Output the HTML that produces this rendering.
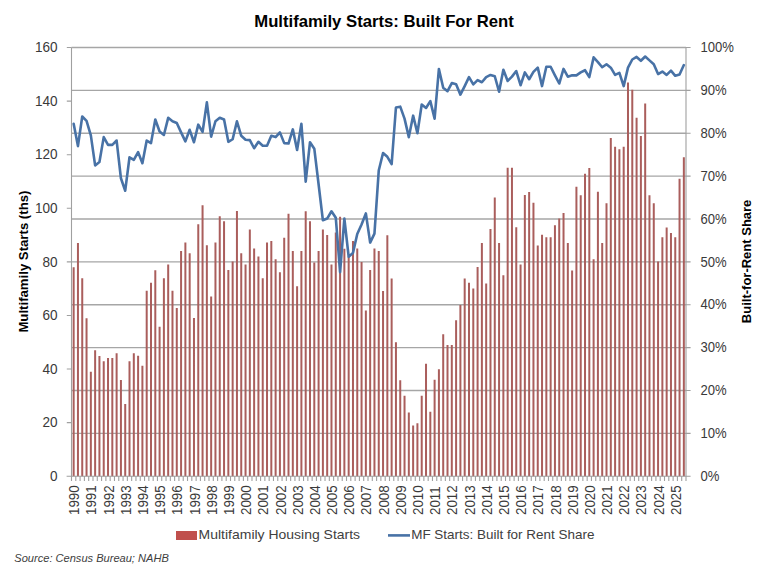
<!DOCTYPE html>
<html><head><meta charset="utf-8"><style>
html,body{margin:0;padding:0;background:#fff;}
svg{display:block;font-family:"Liberation Sans",sans-serif;}
</style></head><body>
<svg width="768" height="576" viewBox="0 0 768 576">
<rect width="768" height="576" fill="#fff"/>
<path d="M71.5 433.38H686.0 M71.5 390.50H686.0 M71.5 347.62H686.0 M71.5 304.75H686.0 M71.5 261.88H686.0 M71.5 219.00H686.0 M71.5 176.12H686.0 M71.5 133.25H686.0 M71.5 90.38H686.0 M71.5 47.50H686.0" stroke="#a6a6a6" stroke-width="1.3" fill="none"/>
<path d="M73.65 476.25V267.23 M77.95 476.25V243.12 M82.24 476.25V278.22 M86.54 476.25V318.15 M90.84 476.25V371.74 M95.13 476.25V350.30 M99.43 476.25V355.93 M103.73 476.25V361.29 M108.03 476.25V358.08 M112.32 476.25V358.08 M116.62 476.25V353.25 M120.92 476.25V380.05 M125.22 476.25V403.90 M129.51 476.25V361.29 M133.81 476.25V353.25 M138.11 476.25V355.66 M142.40 476.25V365.85 M146.70 476.25V290.82 M151.00 476.25V282.78 M155.30 476.25V270.18 M159.59 476.25V326.72 M163.89 476.25V278.22 M168.19 476.25V264.55 M172.48 476.25V290.82 M176.78 476.25V307.97 M181.08 476.25V250.89 M185.38 476.25V242.58 M189.67 476.25V253.30 M193.97 476.25V317.88 M198.27 476.25V224.36 M202.56 476.25V205.33 M206.86 476.25V245.26 M211.16 476.25V296.44 M215.46 476.25V242.58 M219.75 476.25V216.32 M224.05 476.25V221.14 M228.35 476.25V269.91 M232.65 476.25V261.61 M236.94 476.25V210.96 M241.24 476.25V253.30 M245.54 476.25V264.55 M249.83 476.25V229.45 M254.13 476.25V248.48 M258.43 476.25V256.52 M262.73 476.25V278.22 M267.02 476.25V242.58 M271.32 476.25V240.97 M275.62 476.25V259.20 M279.91 476.25V272.33 M284.21 476.25V237.76 M288.51 476.25V213.64 M292.81 476.25V250.89 M297.10 476.25V286.26 M301.40 476.25V250.89 M305.70 476.25V211.23 M309.99 476.25V221.14 M314.29 476.25V262.41 M318.59 476.25V250.89 M322.89 476.25V229.45 M327.18 476.25V235.08 M331.48 476.25V264.55 M335.78 476.25V232.40 M340.08 476.25V216.86 M344.37 476.25V248.74 M348.67 476.25V256.52 M352.97 476.25V240.97 M357.26 476.25V248.48 M361.56 476.25V261.88 M365.86 476.25V310.38 M370.16 476.25V269.91 M374.45 476.25V248.48 M378.75 476.25V250.89 M383.05 476.25V291.08 M387.34 476.25V235.35 M391.64 476.25V278.49 M395.94 476.25V342.27 M400.24 476.25V380.32 M404.53 476.25V395.86 M408.83 476.25V412.47 M413.13 476.25V425.60 M417.42 476.25V423.19 M421.72 476.25V395.86 M426.02 476.25V363.70 M430.32 476.25V411.67 M434.61 476.25V379.78 M438.91 476.25V369.33 M443.21 476.25V334.23 M447.51 476.25V344.95 M451.80 476.25V344.95 M456.10 476.25V320.29 M460.40 476.25V305.02 M464.69 476.25V278.49 M468.99 476.25V282.78 M473.29 476.25V288.40 M477.59 476.25V266.97 M481.88 476.25V243.12 M486.18 476.25V283.58 M490.48 476.25V228.91 M494.77 476.25V197.56 M499.07 476.25V243.12 M503.37 476.25V275.27 M507.67 476.25V167.82 M511.96 476.25V167.82 M516.26 476.25V227.31 M520.56 476.25V264.55 M524.85 476.25V194.88 M529.15 476.25V191.94 M533.45 476.25V202.65 M537.75 476.25V245.53 M542.04 476.25V234.81 M546.34 476.25V237.22 M550.64 476.25V237.22 M554.94 476.25V225.16 M559.23 476.25V218.46 M563.53 476.25V213.10 M567.83 476.25V243.12 M572.12 476.25V270.45 M576.42 476.25V186.84 M580.72 476.25V195.15 M585.02 476.25V173.71 M589.31 476.25V168.09 M593.61 476.25V259.20 M597.91 476.25V191.67 M602.20 476.25V243.12 M606.50 476.25V203.19 M610.80 476.25V138.07 M615.10 476.25V146.65 M619.39 476.25V149.33 M623.69 476.25V146.65 M627.99 476.25V82.60 M632.28 476.25V89.84 M636.58 476.25V117.71 M640.88 476.25V135.93 M645.18 476.25V103.51 M649.47 476.25V195.15 M653.77 476.25V203.19 M658.07 476.25V261.61 M662.37 476.25V237.22 M666.66 476.25V227.57 M670.96 476.25V232.93 M675.26 476.25V237.22 M679.55 476.25V178.80 M683.85 476.25V157.37" stroke="#aa5e5c" stroke-width="2.0" fill="none"/>
<path d="M71.5 47.5V476.25 M686.0 47.5V476.25 M66.6 476.25H686.0 M66.8 422.66H71.5 M66.8 369.06H71.5 M66.8 315.47H71.5 M66.8 261.88H71.5 M66.8 208.28H71.5 M66.8 154.69H71.5 M66.8 101.09H71.5 M66.8 47.50H71.5 M686.0 476.25H690.6 M686.0 433.38H690.6 M686.0 390.50H690.6 M686.0 347.62H690.6 M686.0 304.75H690.6 M686.0 261.88H690.6 M686.0 219.00H690.6 M686.0 176.12H690.6 M686.0 133.25H690.6 M686.0 90.38H690.6 M686.0 47.50H690.6 M71.50 476.25V481 M75.80 476.25V481 M80.09 476.25V481 M84.39 476.25V481 M88.69 476.25V481 M92.99 476.25V481 M97.28 476.25V481 M101.58 476.25V481 M105.88 476.25V481 M110.17 476.25V481 M114.47 476.25V481 M118.77 476.25V481 M123.07 476.25V481 M127.36 476.25V481 M131.66 476.25V481 M135.96 476.25V481 M140.26 476.25V481 M144.55 476.25V481 M148.85 476.25V481 M153.15 476.25V481 M157.44 476.25V481 M161.74 476.25V481 M166.04 476.25V481 M170.34 476.25V481 M174.63 476.25V481 M178.93 476.25V481 M183.23 476.25V481 M187.52 476.25V481 M191.82 476.25V481 M196.12 476.25V481 M200.42 476.25V481 M204.71 476.25V481 M209.01 476.25V481 M213.31 476.25V481 M217.60 476.25V481 M221.90 476.25V481 M226.20 476.25V481 M230.50 476.25V481 M234.79 476.25V481 M239.09 476.25V481 M243.39 476.25V481 M247.69 476.25V481 M251.98 476.25V481 M256.28 476.25V481 M260.58 476.25V481 M264.87 476.25V481 M269.17 476.25V481 M273.47 476.25V481 M277.77 476.25V481 M282.06 476.25V481 M286.36 476.25V481 M290.66 476.25V481 M294.95 476.25V481 M299.25 476.25V481 M303.55 476.25V481 M307.85 476.25V481 M312.14 476.25V481 M316.44 476.25V481 M320.74 476.25V481 M325.03 476.25V481 M329.33 476.25V481 M333.63 476.25V481 M337.93 476.25V481 M342.22 476.25V481 M346.52 476.25V481 M350.82 476.25V481 M355.12 476.25V481 M359.41 476.25V481 M363.71 476.25V481 M368.01 476.25V481 M372.30 476.25V481 M376.60 476.25V481 M380.90 476.25V481 M385.20 476.25V481 M389.49 476.25V481 M393.79 476.25V481 M398.09 476.25V481 M402.38 476.25V481 M406.68 476.25V481 M410.98 476.25V481 M415.28 476.25V481 M419.57 476.25V481 M423.87 476.25V481 M428.17 476.25V481 M432.47 476.25V481 M436.76 476.25V481 M441.06 476.25V481 M445.36 476.25V481 M449.65 476.25V481 M453.95 476.25V481 M458.25 476.25V481 M462.55 476.25V481 M466.84 476.25V481 M471.14 476.25V481 M475.44 476.25V481 M479.73 476.25V481 M484.03 476.25V481 M488.33 476.25V481 M492.63 476.25V481 M496.92 476.25V481 M501.22 476.25V481 M505.52 476.25V481 M509.81 476.25V481 M514.11 476.25V481 M518.41 476.25V481 M522.71 476.25V481 M527.00 476.25V481 M531.30 476.25V481 M535.60 476.25V481 M539.90 476.25V481 M544.19 476.25V481 M548.49 476.25V481 M552.79 476.25V481 M557.08 476.25V481 M561.38 476.25V481 M565.68 476.25V481 M569.98 476.25V481 M574.27 476.25V481 M578.57 476.25V481 M582.87 476.25V481 M587.16 476.25V481 M591.46 476.25V481 M595.76 476.25V481 M600.06 476.25V481 M604.35 476.25V481 M608.65 476.25V481 M612.95 476.25V481 M617.24 476.25V481 M621.54 476.25V481 M625.84 476.25V481 M630.14 476.25V481 M634.43 476.25V481 M638.73 476.25V481 M643.03 476.25V481 M647.33 476.25V481 M651.62 476.25V481 M655.92 476.25V481 M660.22 476.25V481 M664.51 476.25V481 M668.81 476.25V481 M673.11 476.25V481 M677.41 476.25V481 M681.70 476.25V481 M686.00 476.25V481" stroke="#a0a0a0" stroke-width="1.1" fill="none"/>
<polyline points="73.65,123.82 77.95,146.11 82.24,116.53 86.54,120.82 90.84,135.39 95.13,165.41 99.43,161.98 103.73,137.11 108.03,144.83 112.32,144.83 116.62,140.54 120.92,178.27 125.22,190.70 129.51,157.26 133.81,159.83 138.11,152.12 142.40,163.26 146.70,140.54 151.00,143.11 155.30,119.53 159.59,131.54 163.89,134.96 168.19,117.81 172.48,121.25 176.78,122.96 181.08,132.39 185.38,141.40 189.67,129.82 193.97,142.25 198.27,124.68 202.56,131.96 206.86,102.38 211.16,136.68 215.46,121.25 219.75,117.81 224.05,119.53 228.35,141.82 232.65,139.25 236.94,121.25 241.24,135.82 245.54,139.68 249.83,140.11 254.13,148.26 258.43,141.82 262.73,145.68 267.02,145.68 271.32,135.82 275.62,137.11 279.91,132.39 284.21,143.11 288.51,143.54 292.81,129.39 297.10,149.97 301.40,123.82 305.70,181.70 309.99,142.25 314.29,148.68 318.59,184.27 322.89,220.29 327.18,218.57 331.48,211.28 335.78,217.71 340.08,272.16 344.37,218.57 348.67,256.73 352.97,252.87 357.26,234.01 361.56,224.57 365.86,213.43 370.16,242.58 374.45,233.58 378.75,170.55 383.05,152.97 387.34,156.83 391.64,164.12 395.94,107.52 400.24,106.67 404.53,118.67 408.83,137.11 413.13,115.67 417.42,133.25 421.72,104.52 426.02,107.95 430.32,101.09 434.61,118.67 438.91,68.94 443.21,87.80 447.51,91.23 451.80,83.09 456.10,84.37 460.40,94.66 464.69,86.09 468.99,77.08 473.29,84.37 477.59,80.08 481.88,82.23 486.18,77.08 490.48,74.94 494.77,76.23 499.07,91.66 503.37,69.80 507.67,80.94 511.96,76.65 516.26,71.08 520.56,85.23 524.85,72.37 529.15,79.23 533.45,71.94 537.75,67.65 542.04,86.09 546.34,66.79 550.64,66.79 554.94,75.37 559.23,83.51 563.53,68.94 567.83,76.65 572.12,75.37 576.42,75.37 580.72,72.37 585.02,70.22 589.31,77.08 593.61,57.36 597.91,62.08 602.20,67.22 606.50,64.22 610.80,67.65 615.10,74.94 619.39,72.80 623.69,86.09 627.99,67.65 632.28,59.50 636.58,56.93 640.88,60.79 645.18,56.50 649.47,60.36 653.77,64.22 658.07,74.08 662.37,71.51 666.66,74.94 670.96,70.65 675.26,75.80 679.55,74.51 683.85,65.08" stroke="#4872a6" stroke-width="2.6" fill="none" stroke-linejoin="round" stroke-linecap="round"/>
<g font-size="14" fill="#3a3a3a"><text transform="translate(57.6,480.95) scale(0.97,1)" text-anchor="end">0</text><text transform="translate(57.6,427.36) scale(0.97,1)" text-anchor="end">20</text><text transform="translate(57.6,373.76) scale(0.97,1)" text-anchor="end">40</text><text transform="translate(57.6,320.17) scale(0.97,1)" text-anchor="end">60</text><text transform="translate(57.6,266.57) scale(0.97,1)" text-anchor="end">80</text><text transform="translate(57.6,212.98) scale(0.97,1)" text-anchor="end">100</text><text transform="translate(57.6,159.39) scale(0.97,1)" text-anchor="end">120</text><text transform="translate(57.6,105.79) scale(0.97,1)" text-anchor="end">140</text><text transform="translate(57.6,52.20) scale(0.97,1)" text-anchor="end">160</text></g>
<g font-size="14" fill="#3a3a3a"><text transform="translate(700.4,480.95) scale(0.935,1)">0%</text><text transform="translate(700.4,438.07) scale(0.935,1)">10%</text><text transform="translate(700.4,395.20) scale(0.935,1)">20%</text><text transform="translate(700.4,352.32) scale(0.935,1)">30%</text><text transform="translate(700.4,309.45) scale(0.935,1)">40%</text><text transform="translate(700.4,266.57) scale(0.935,1)">50%</text><text transform="translate(700.4,223.70) scale(0.935,1)">60%</text><text transform="translate(700.4,180.82) scale(0.935,1)">70%</text><text transform="translate(700.4,137.95) scale(0.935,1)">80%</text><text transform="translate(700.4,95.08) scale(0.935,1)">90%</text><text transform="translate(700.4,52.20) scale(0.935,1)">100%</text></g>
<g font-size="14" fill="#3a3a3a"><text transform="translate(79.25,515) rotate(-90) scale(0.955,1)">1990</text><text transform="translate(96.44,515) rotate(-90) scale(0.955,1)">1991</text><text transform="translate(113.63,515) rotate(-90) scale(0.955,1)">1992</text><text transform="translate(130.82,515) rotate(-90) scale(0.955,1)">1993</text><text transform="translate(148.00,515) rotate(-90) scale(0.955,1)">1994</text><text transform="translate(165.19,515) rotate(-90) scale(0.955,1)">1995</text><text transform="translate(182.38,515) rotate(-90) scale(0.955,1)">1996</text><text transform="translate(199.57,515) rotate(-90) scale(0.955,1)">1997</text><text transform="translate(216.76,515) rotate(-90) scale(0.955,1)">1998</text><text transform="translate(233.95,515) rotate(-90) scale(0.955,1)">1999</text><text transform="translate(251.14,515) rotate(-90) scale(0.955,1)">2000</text><text transform="translate(268.33,515) rotate(-90) scale(0.955,1)">2001</text><text transform="translate(285.51,515) rotate(-90) scale(0.955,1)">2002</text><text transform="translate(302.70,515) rotate(-90) scale(0.955,1)">2003</text><text transform="translate(319.89,515) rotate(-90) scale(0.955,1)">2004</text><text transform="translate(337.08,515) rotate(-90) scale(0.955,1)">2005</text><text transform="translate(354.27,515) rotate(-90) scale(0.955,1)">2006</text><text transform="translate(371.46,515) rotate(-90) scale(0.955,1)">2007</text><text transform="translate(388.65,515) rotate(-90) scale(0.955,1)">2008</text><text transform="translate(405.84,515) rotate(-90) scale(0.955,1)">2009</text><text transform="translate(423.02,515) rotate(-90) scale(0.955,1)">2010</text><text transform="translate(440.21,515) rotate(-90) scale(0.955,1)">2011</text><text transform="translate(457.40,515) rotate(-90) scale(0.955,1)">2012</text><text transform="translate(474.59,515) rotate(-90) scale(0.955,1)">2013</text><text transform="translate(491.78,515) rotate(-90) scale(0.955,1)">2014</text><text transform="translate(508.97,515) rotate(-90) scale(0.955,1)">2015</text><text transform="translate(526.16,515) rotate(-90) scale(0.955,1)">2016</text><text transform="translate(543.35,515) rotate(-90) scale(0.955,1)">2017</text><text transform="translate(560.54,515) rotate(-90) scale(0.955,1)">2018</text><text transform="translate(577.72,515) rotate(-90) scale(0.955,1)">2019</text><text transform="translate(594.91,515) rotate(-90) scale(0.955,1)">2020</text><text transform="translate(612.10,515) rotate(-90) scale(0.955,1)">2021</text><text transform="translate(629.29,515) rotate(-90) scale(0.955,1)">2022</text><text transform="translate(646.48,515) rotate(-90) scale(0.955,1)">2023</text><text transform="translate(663.67,515) rotate(-90) scale(0.955,1)">2024</text><text transform="translate(680.86,515) rotate(-90) scale(0.955,1)">2025</text></g>
<text x="384" y="26.5" text-anchor="middle" font-size="16.7" textLength="259.5" lengthAdjust="spacingAndGlyphs" font-weight="bold" fill="#000">Multifamily Starts: Built For Rent</text>
<text transform="translate(28.3,261.6) rotate(-90)" text-anchor="middle" font-size="13" textLength="142" lengthAdjust="spacingAndGlyphs" font-weight="bold" fill="#000">Multifamily Starts (ths)</text>
<text transform="translate(751.3,261.4) rotate(-90)" text-anchor="middle" font-size="13" font-weight="bold" fill="#000">Built-for-Rent Share</text>
<rect x="176" y="531" width="21" height="9" fill="#c0504d"/>
<text x="198.6" y="539.3" font-size="13.6" textLength="161.5" lengthAdjust="spacingAndGlyphs" fill="#404040">Multifamily Housing Starts</text>
<path d="M388 535.4H410" stroke="#4872a6" stroke-width="2.6"/>
<text x="411.2" y="539.3" font-size="13.4" textLength="183.2" lengthAdjust="spacingAndGlyphs" fill="#404040">MF Starts: Built for Rent Share</text>
<text x="14.3" y="561.5" font-size="11.2" textLength="154.5" lengthAdjust="spacingAndGlyphs" font-style="italic" fill="#404040">Source: Census Bureau; NAHB</text>
</svg>
</body></html>
